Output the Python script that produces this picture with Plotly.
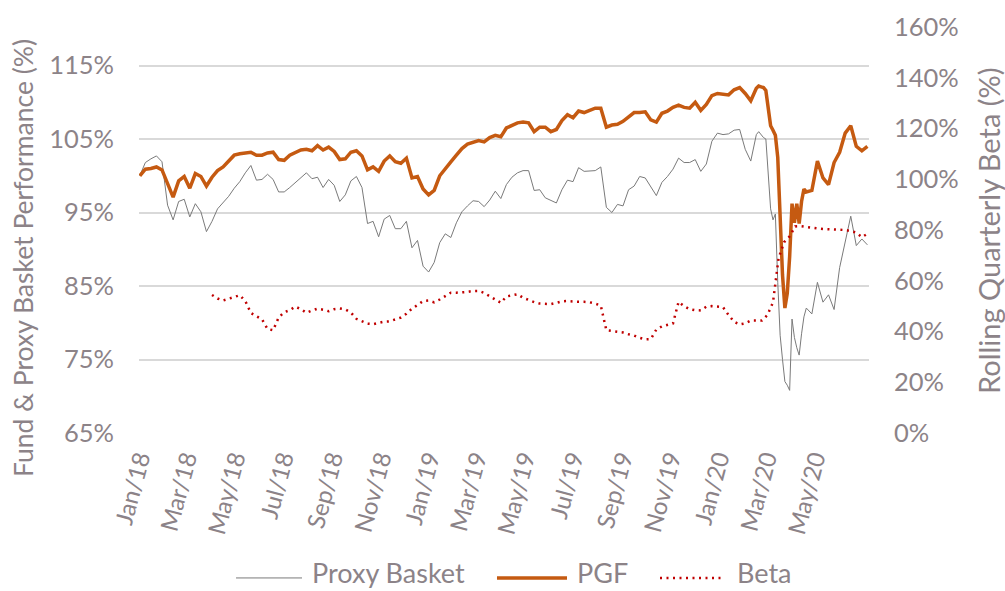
import pandas as pd
import plotly.graph_objects as go

# ---- dates (categories) ----
dates_weekly_a = pd.date_range("2018-01-02", periods=112, freq="7D")   # to 2020-02-18
dates_crash = pd.date_range("2020-02-21", periods=21, freq="3D")       # to 2020-04-21
dates_weekly_c = pd.date_range("2020-04-28", periods=11, freq="7D")    # to 2020-07-07
perf_dates = list(dates_weekly_a) + list(dates_crash) + list(dates_weekly_c)
beta_dates = list(pd.date_range("2018-04-03", periods=119, freq="7D"))
tick_dates = list(pd.date_range("2018-01-01", "2020-05-01", freq="2MS"))

# ---- series values (%) ----
pgf_a = [
    100.0, 100.9, 101.0, 101.2, 100.8, 99.0, 97.1, 99.3, 99.9, 98.3,
    100.3, 99.9, 98.6, 99.8, 100.7, 101.2, 102.0, 102.8, 103.0, 103.1,
    103.2, 102.8, 102.8, 103.1, 103.2, 102.2, 102.1, 102.8, 103.1, 103.5,
    103.6, 103.4, 104.1, 103.5, 103.9, 103.3, 102.2, 102.3, 103.2, 103.4,
    102.7, 100.8, 101.2, 100.6, 102.0, 102.7, 101.9, 101.7, 102.4, 99.7,
    99.9, 98.2, 97.4, 98.0, 100.0, 101.0, 101.9, 102.8, 103.7, 104.3,
    104.5, 104.8, 104.6, 105.2, 105.5, 105.3, 106.5, 106.8, 107.2, 107.3,
    107.2, 106.0, 106.6, 106.6, 106.0, 106.3, 107.5, 108.3, 107.9, 108.8,
    108.6, 108.9, 109.2, 109.2, 106.6, 106.9, 107.0, 107.4, 108.0, 108.6,
    108.6, 108.7, 107.6, 107.3, 108.5, 108.8, 109.3, 109.6, 109.3, 109.2,
    110.0, 108.9, 109.7, 110.9, 111.2, 111.1, 111.0, 111.7, 112.0, 111.2,
    110.2, 111.9,
]
pgf_crash = [112.2, 112.1, 112.0, 111.6, 109.0, 106.8, 106.2, 105.5, 102.5, 93.0,
             86.5, 82.0, 84.0, 89.0, 96.2, 93.6, 96.2, 93.5, 96.5, 98.2, 97.8]
pgf_c = [98.0, 102.0, 99.7, 98.8, 101.8, 103.2, 105.8, 106.8, 104.0, 103.4, 104.0]

proxy_a = [
    100.0, 101.8, 102.3, 102.7, 101.9, 96.0, 94.0, 96.5, 96.8, 94.4,
    96.2, 95.1, 92.4, 93.8, 95.5, 96.3, 97.2, 98.3, 99.2, 100.4,
    101.4, 99.4, 99.5, 100.2, 99.5, 97.8, 97.8, 98.4, 99.1, 99.8,
    100.4, 99.6, 99.8, 98.4, 99.5, 98.7, 96.5, 97.4, 99.3, 99.9,
    98.4, 93.5, 93.8, 91.7, 94.1, 94.6, 92.8, 92.8, 93.8, 90.2,
    91.2, 87.7, 86.9, 88.2, 90.9, 92.1, 91.6, 93.6, 95.1, 95.9,
    96.6, 96.5, 95.8, 96.7, 97.9, 96.9, 98.8, 99.8, 100.4, 100.7,
    100.7, 98.0, 98.1, 97.0, 96.7, 96.3, 98.1, 99.4, 99.2, 101.1,
    100.6, 100.7, 100.7, 101.2, 95.7, 95.0, 96.1, 95.9, 98.1, 98.6,
    99.9, 99.7, 98.5, 97.3, 99.1, 99.9, 100.9, 102.4, 101.8, 101.8,
    102.2, 100.6, 101.6, 104.7, 105.8, 105.6, 105.7, 106.2, 106.3, 103.6,
    102.0, 105.6,
]
proxy_crash = [106.0, 105.6, 105.2, 105.0, 100.0, 95.5, 94.0, 94.8, 85.5, 78.3,
               75.0, 72.0, 71.5, 70.8, 80.5, 78.0, 76.6, 75.6, 78.5, 80.8, 82.0]
proxy_c = [81.2, 85.5, 82.8, 83.8, 81.8, 87.5, 91.2, 94.5, 90.5, 91.4, 90.6]

beta = [
    54.4, 53.0, 52.2, 53.0, 53.7, 54.3, 52.0, 47.3, 46.0, 44.8,
    41.0, 40.5, 45.5, 47.6, 48.4, 49.8, 48.8, 47.4, 48.3, 49.0,
    48.6, 48.0, 48.8, 49.1, 48.7, 47.5, 45.0, 43.9, 43.1, 42.9,
    43.4, 43.9, 44.0, 44.6, 45.5, 47.0, 49.0, 50.4, 52.0, 52.2,
    51.5, 52.6, 54.0, 55.3, 55.3, 55.4, 55.6, 56.0, 56.0, 55.2,
    54.0, 52.6, 51.3, 53.8, 54.3, 54.7, 53.3, 52.3, 51.6, 51.0,
    50.9, 50.8, 51.3, 51.9, 52.0, 51.8, 51.7, 51.7, 51.5, 51.0,
    50.2, 40.5, 40.2, 40.0, 39.6, 38.9, 38.4, 37.5, 36.9, 37.0,
    40.8, 42.0, 42.6, 43.2, 51.7, 50.0, 48.8, 48.4, 48.3, 49.8,
    50.0, 49.9, 49.6, 46.5, 43.8, 42.8, 43.2, 44.3, 44.2, 44.3,
    46.5, 51.5, 68.8, 75.2, 77.5, 81.4, 81.5, 81.2, 80.7, 80.6,
    80.4, 80.3, 80.2, 80.1, 80.0, 79.6, 79.0, 77.2, 78.5,
]

pgf = pgf_a + pgf_crash + pgf_c
proxy = proxy_a + proxy_crash + proxy_c

series_names = ["Proxy Basket", "PGF", "Beta"]
series_colors = ["#7a7a7a", "#c55a11", "#c00000"]
series_widths = [1, 3.5, 2.5]
series_dash = ["solid", "solid", "2px,4.5px"]

FONT = "Lato"
TXT = "#8c8388"

fig = go.Figure()
fig.add_trace(go.Scatter(x=perf_dates, y=proxy, name=series_names[0], mode="lines",
                         line=dict(color=series_colors[0], width=series_widths[0])))
fig.add_trace(go.Scatter(x=perf_dates, y=pgf, name=series_names[1], mode="lines",
                         line=dict(color=series_colors[1], width=series_widths[1])))
fig.add_trace(go.Scatter(x=beta_dates, y=beta, name=series_names[2], mode="lines", yaxis="y2",
                         line=dict(color=series_colors[2], width=series_widths[2],
                                   dash=series_dash[2])))

# legend drawn as line samples + labels below the plot (paper coordinates)
legend_line_x = [(0.1329, 0.2233), (0.4904, 0.5863), (0.7137, 0.7986)]
legend_text_x = [0.2342, 0.5973, 0.8164]
legend_line_y = -0.357
legend_text_y = -0.3892
shapes = []
annotations = []
for (x0, x1), tx, nm, col, w, d in zip(legend_line_x, legend_text_x, series_names,
                                       series_colors, series_widths, series_dash):
    shapes.append(dict(type="line", xref="paper", yref="paper", x0=x0, x1=x1,
                       y0=legend_line_y, y1=legend_line_y,
                       line=dict(color=col, width=w, dash=d)))
    annotations.append(dict(text=nm, xref="paper", yref="paper", x=tx, y=legend_text_y,
                            xanchor="left", yanchor="bottom", showarrow=False,
                            font=dict(family=FONT, size=27, color=TXT)))

annotations += [
    dict(text="Fund & Proxy Basket Performance (%)", textangle=-90,
         xref="paper", yref="paper", x=-0.158, y=0.43,
         xanchor="center", yanchor="middle", showarrow=False,
         font=dict(family=FONT, size=26.5, color=TXT)),
    dict(text="Rolling Quarterly Beta (%)", textangle=-90,
         xref="paper", yref="paper", x=1.163, y=0.5,
         xanchor="center", yanchor="middle", showarrow=False,
         font=dict(family=FONT, size=29, color=TXT)),
]

fig.update_layout(
    width=1005, height=591,
    margin=dict(l=139, r=136, t=27, b=158, autoexpand=False),
    paper_bgcolor="white", plot_bgcolor="white",
    font=dict(family=FONT, size=25, color=TXT),
    showlegend=False,
    xaxis=dict(type="date", range=["2018-01-01", "2020-07-09"],
               tickmode="array", tickvals=tick_dates, tickformat="%b/%y", tickangle=-75,
               tickfont=dict(family=FONT, size=24, color=TXT),
               showgrid=False, zeroline=False, showline=False, ticks="",
               ticklabelstandoff=6, automargin=False),
    yaxis=dict(range=[65, 120.24], tick0=65, dtick=10, ticksuffix="%",
               tickfont=dict(family=FONT, size=25.5, color=TXT),
               showgrid=True, gridcolor="#d9d9d9", gridwidth=1.5,
               zeroline=False, showline=False, ticks="", ticklabelstandoff=24,
               automargin=False),
    yaxis2=dict(range=[0, 160.001], tick0=0, dtick=20, ticksuffix="%",
                overlaying="y", side="right",
                tickfont=dict(family=FONT, size=25.5, color=TXT),
                showgrid=False, zeroline=False, showline=False, ticks="",
                ticklabelstandoff=24, automargin=False),
    shapes=shapes,
    annotations=annotations,
)

fig.write_html("out.html", config={"displayModeBar": False},
               post_script="document.body.style.margin='0';document.body.style.padding='0';")
